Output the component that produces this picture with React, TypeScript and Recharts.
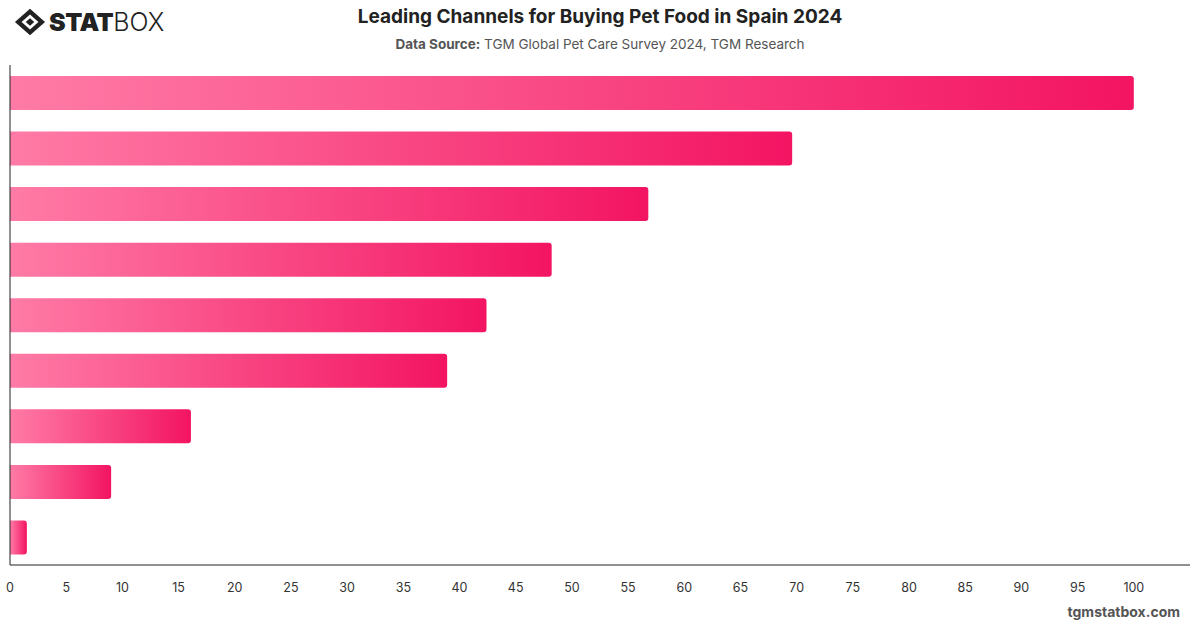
import { Bar, BarChart, XAxis, YAxis } from "recharts";

const channels = [
  "Channel 1",
  "Channel 2",
  "Channel 3",
  "Channel 4",
  "Channel 5",
  "Channel 6",
  "Channel 7",
  "Channel 8",
  "Channel 9",
];
const shares = [100, 69.6, 56.8, 48.2, 42.4, 38.9, 16.1, 9.0, 1.5];
const xTicks = [0, 5, 10, 15, 20, 25, 30, 35, 40, 45, 50, 55, 60, 65, 70, 75, 80, 85, 90, 95, 100];

const rows = channels.map((name, i) => ({ name, value: shares[i] }));

function Logo() {
  return (
    <div style={{ position: "absolute", left: 14, top: 7, display: "flex", alignItems: "center" }}>
      <svg width="32" height="30" viewBox="0 0 34 30">
        <path d="M17 1 L33 15 L17 29 L1 15 Z" fill="#222" />
        <path d="M17 7 L26 15 L17 23 L8 15 Z" fill="#fff" />
        <path d="M17 11 L21.5 15 L17 19 L12.5 15 Z" fill="#222" />
      </svg>
      <span style={{ fontFamily: "Inter", fontWeight: 900, fontSize: 25, color: "#222", marginLeft: 3, letterSpacing: -0.5 }}>
        STAT
      </span>
      <span style={{ fontFamily: "Inter", fontWeight: 300, fontSize: 25, color: "#222" }}>BOX</span>
    </div>
  );
}

export default function App() {
  return (
    <div style={{ position: "absolute", left: 0, top: 0, width: 1200, height: 628, background: "#fff", fontFamily: "Inter, sans-serif" }}>
      <Logo />
      <div style={{ position: "absolute", top: 5, width: 1200, textAlign: "center", fontSize: 19, fontWeight: 700, color: "#222" }}>
        Leading Channels for Buying Pet Food in Spain 2024
      </div>
      <div style={{ position: "absolute", top: 36, width: 1200, textAlign: "center", fontSize: 13.5, color: "#555" }}>
        <b>Data Source:</b> TGM Global Pet Care Survey 2024, TGM Research
      </div>
      <BarChart
        width={1200}
        height={628}
        data={rows}
        layout="vertical"
        margin={{ top: 65, right: 10, bottom: 33, left: 9 }}
        barCategoryGap={11}
      >
        <defs>
          <linearGradient id="barFill" x1="0" y1="0" x2="1" y2="0">
            <stop offset="0%" stopColor="#ff7ba6" />
            <stop offset="100%" stopColor="#f31462" />
          </linearGradient>
        </defs>
        <XAxis
          type="number"
          domain={[0, 105]}
          ticks={xTicks}
          tickLine={false}
          axisLine={{ stroke: "#222" }}
          tick={{ fill: "#333", fontSize: 12.5 }}
          tickMargin={12}
          interval={0}
        />
        <YAxis type="category" dataKey="name" width={1} tick={false} tickLine={false} axisLine={{ stroke: "#222" }} />
        <Bar dataKey="value" fill="url(#barFill)" radius={[0, 3, 3, 0]} isAnimationActive={false} />
      </BarChart>
      <div style={{ position: "absolute", right: 20, top: 603, fontSize: 14, fontWeight: 700, color: "#555" }}>
        tgmstatbox.com
      </div>
    </div>
  );
}
